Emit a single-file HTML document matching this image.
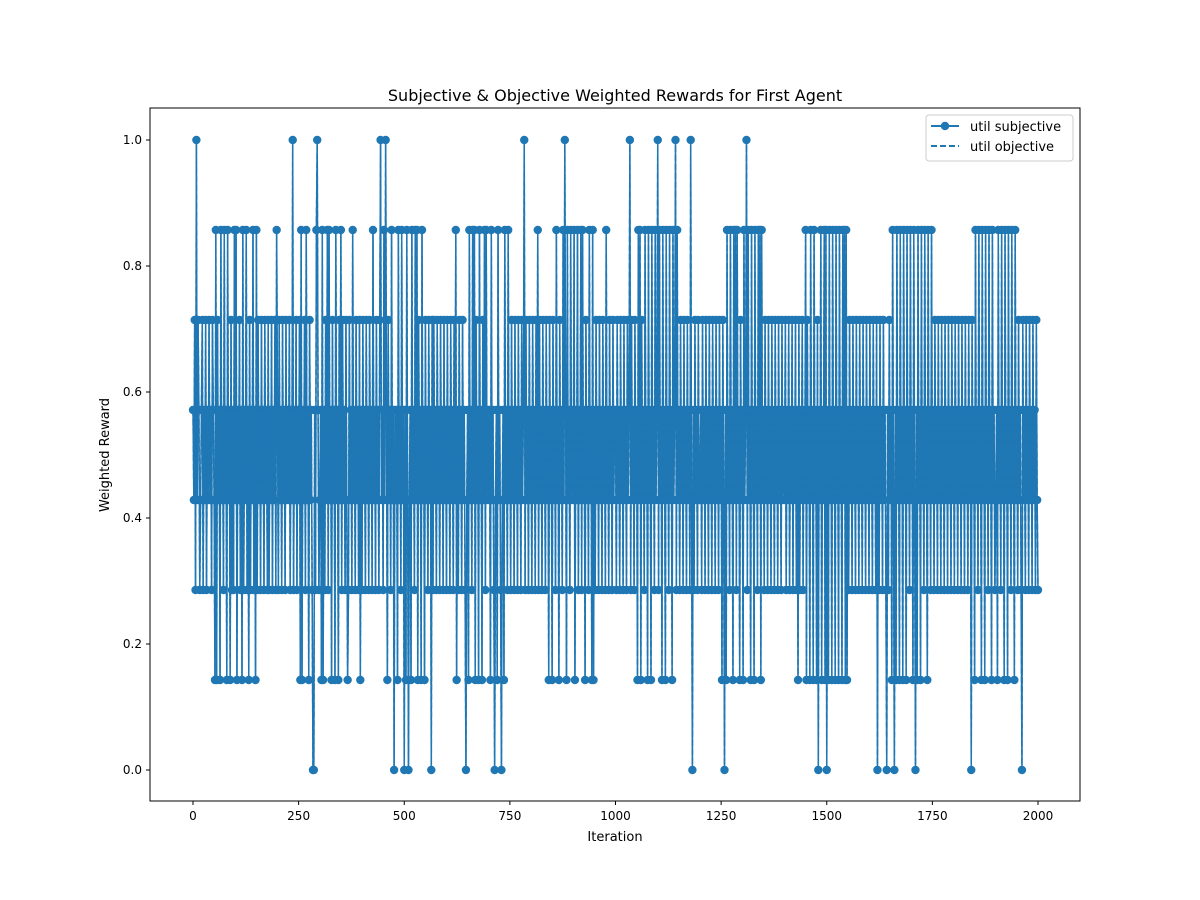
<!DOCTYPE html>
<html><head><meta charset="utf-8">
<style>
html,body{margin:0;padding:0;background:#fff;}
svg{display:block;font-family:"DejaVu Sans","Liberation Sans",sans-serif;}
</style></head>
<body>
<svg id="chart" width="1200" height="900" viewBox="0 0 1200 900">
<rect width="1200" height="900" fill="#fff"/>
<text x="615" y="101" text-anchor="middle" font-size="16">Subjective &amp; Objective Weighted Rewards for First Agent</text>
<text x="615" y="841" text-anchor="middle" font-size="13">Iteration</text>
<text x="109" y="455" text-anchor="middle" font-size="13" transform="rotate(-90 109 455)">Weighted Reward</text>
<g id="plot"></g>
<g id="axes"></g>
<g>
<rect x="926" y="115" width="147" height="46" rx="3" fill="#fff" fill-opacity="0.8" stroke="#ccc"/>
<line x1="931" y1="126" x2="959" y2="126" stroke="#1f77b4" stroke-width="2"/>
<circle cx="945" cy="126" r="4.2" fill="#1f77b4"/>
<text x="970" y="131" font-size="13">util subjective</text>
<line x1="931" y1="146" x2="959" y2="146" stroke="#1f77b4" stroke-width="2" stroke-dasharray="6,3"/>
<text x="970" y="151" font-size="13">util objective</text>
</g>
</svg>
<script>
const xTicks = [0, 250, 500, 750, 1000, 1250, 1500, 1750, 2000];
const yTicks = [0.0, 0.2, 0.4, 0.6, 0.8, 1.0];
const stepIter = 2;
const levelsStr =
"4352735423452435243534254" + "3161534163426341634152426" +
"3614352416243624152436241" + "6253425342534252435243526" +
"4253425342534352437243524" + "3516143526341534200426742" +
"3416142536263415341634153" + "6253425312534263425342514" +
"2534253425342634253425734" + "2637415342634043416342634" +
"0416303416342636153416341" + "5342534052534253425342534" +
"2534253425361425342534203" + "4163426361534163415362634" +
"3416342034163420341634263" + "4253425342534253472534253" +
"4253425362534253425341534" + "1534263415342637416342634" +
"3614362436263415342634161" + "4253425342534263425342534" +
"4253425342534253472534253" + "4163615342634163416342634" +
"7263416341634263416347263" + "4253425342534273042534253" +
"3425342534253425342534253" + "4153041634263416362634153" +
"4163472634163416342636163" + "4253425342534253425342534" +
"3524352435243524152435243" + "6153416341634150436143616" +
"0416341634163416341636161" + "4253425342534253425342534" +
"2534253425042534253420425" + "3416304163416341634163426" +
"3416304163416342634163426" + "3425342534253425342534253" +
"4253425342534253425340534" + "1634263416341634263416342" +
"3416342634163416342634163" + "4253420534253425342534253" +
"2";
const subjectiveValues = levelsStr.split('').map(d => Number(d) / 7);
const objectiveValues = subjectiveValues.slice();

const L = 150, R = 1080, T = 108, B = 801;
const xs = v => 193 + (v - 0) * (1038 - 193) / 2000;
const ys = v => 770 - v * (770 - 140);
const NS = "http://www.w3.org/2000/svg";
function mk(tag, attrs, parent) {
  const e = document.createElementNS(NS, tag);
  for (const k in attrs) e.setAttribute(k, attrs[k]);
  parent.appendChild(e);
  return e;
}
const plot = document.getElementById('plot');
const axes = document.getElementById('axes');

function pts(vals) { return vals.map((v, i) => xs(i * stepIter).toFixed(2) + ',' + ys(v).toFixed(2)).join(' '); }
const l1 = mk('polyline', {points: pts(subjectiveValues), fill: 'none', stroke: '#1f77b4', 'stroke-width': 1.5}, plot);


subjectiveValues.forEach((v, i) => {
  const c = mk('circle', {cx: xs(i * stepIter), cy: ys(v), r: 4.2, fill: '#1f77b4'}, plot);
  
  
});
const l2 = mk('polyline', {points: pts(objectiveValues), fill: 'none', stroke: '#1f77b4', 'stroke-width': 1.5, 'stroke-dasharray': '6,3'}, plot);



const fr = mk('rect', {x: L, y: T, width: R - L, height: B - T, fill: 'none', stroke: '#000', 'stroke-width': 1}, axes);


xTicks.forEach(t => {
  const x = xs(t);
  mk('line', {x1: x, y1: B, x2: x, y2: B + 4, stroke: '#000'}, axes);
  const tx = mk('text', {x: x, y: B + 19, 'text-anchor': 'middle', 'font-size': 12}, axes);
  tx.textContent = String(t);
  
  
});
yTicks.forEach(t => {
  const y = ys(t);
  mk('line', {x1: L - 4, y1: y, x2: L, y2: y, stroke: '#000'}, axes);
  const ty = mk('text', {x: L - 8, y: y + 4, 'text-anchor': 'end', 'font-size': 12}, axes);
  ty.textContent = t.toFixed(1);
  
  
});
</script>
</body></html>
